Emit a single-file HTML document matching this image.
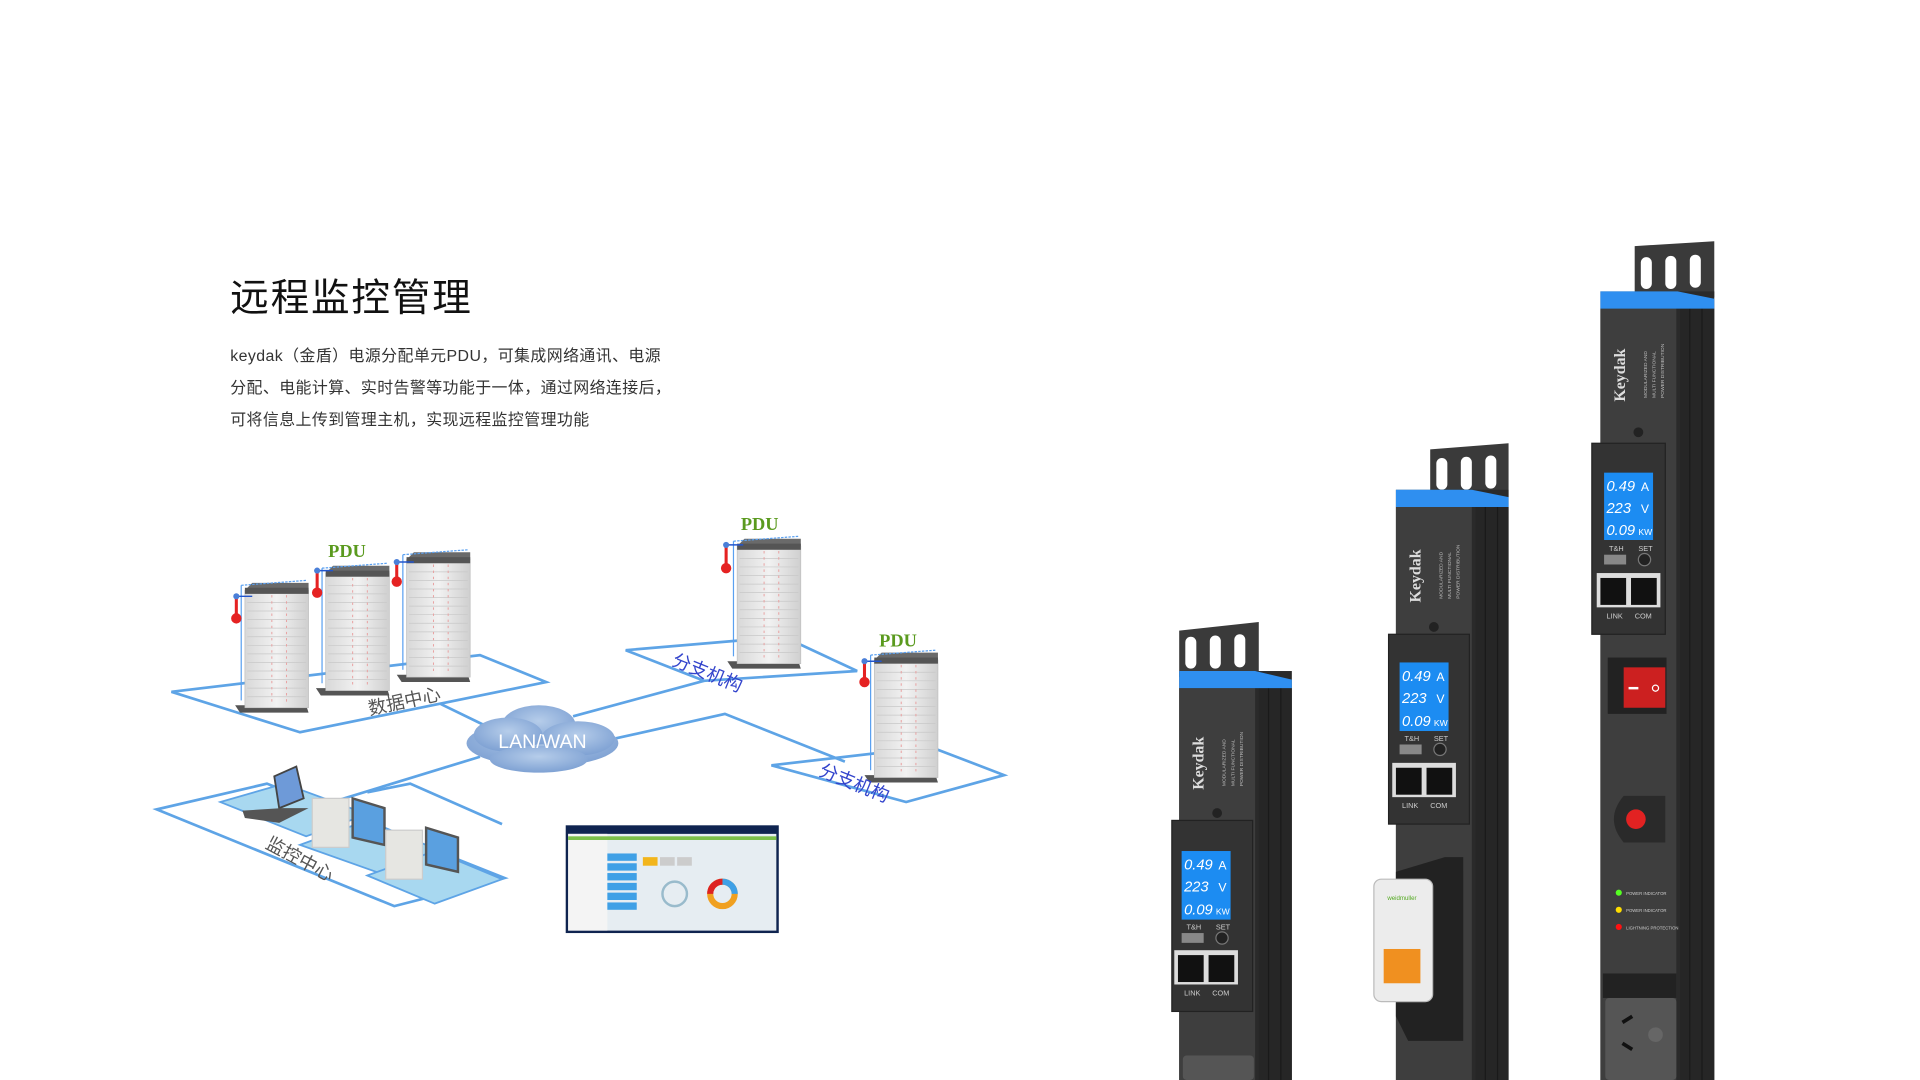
<!DOCTYPE html>
<html><head><meta charset="utf-8"><style>
html,body{margin:0;padding:0;background:#fff;width:1920px;height:1080px;overflow:hidden}
svg{display:block}
text{font-family:"Liberation Sans","Noto Sans CJK SC",sans-serif}
</style></head><body>
<svg width="1920" height="1080" viewBox="0 0 1568 882" preserveAspectRatio="none" xmlns="http://www.w3.org/2000/svg">
<defs>
<linearGradient id="rk" x1="0" x2="1"><stop offset="0" stop-color="#d8d8d8"/><stop offset="0.5" stop-color="#f2f2f2"/><stop offset="1" stop-color="#cfcfcf"/></linearGradient>
<radialGradient id="cl" cx="0.5" cy="0.4" r="0.6"><stop offset="0" stop-color="#b6cdea"/><stop offset="1" stop-color="#7ea1d3"/></radialGradient>
<symbol id="rack" viewBox="0 0 60 110" overflow="visible">
<polygon points="-8,100 50,100 52,106 -4,106" fill="#555"/>
<rect x="0" y="6" width="52" height="96" fill="url(#rk)" stroke="#bbb" stroke-width="0.5"/>
<polygon points="0,6 6,0 52,0 52,6" fill="#6a6a6a"/>
<rect x="0" y="4" width="52" height="5" fill="#555"/>
<g stroke="#c8c8c8" stroke-width="0.6">
<line x1="2" y1="16" x2="50" y2="16"/><line x1="2" y1="23" x2="50" y2="23"/><line x1="2" y1="30" x2="50" y2="30"/><line x1="2" y1="37" x2="50" y2="37"/><line x1="2" y1="44" x2="50" y2="44"/><line x1="2" y1="51" x2="50" y2="51"/><line x1="2" y1="58" x2="50" y2="58"/><line x1="2" y1="65" x2="50" y2="65"/><line x1="2" y1="72" x2="50" y2="72"/><line x1="2" y1="79" x2="50" y2="79"/><line x1="2" y1="86" x2="50" y2="86"/><line x1="2" y1="93" x2="50" y2="93"/></g>
<line x1="22" y1="10" x2="22" y2="98" stroke="#e9a0a0" stroke-width="0.8" stroke-dasharray="2,3"/>
<line x1="34" y1="10" x2="34" y2="98" stroke="#e9a0a0" stroke-width="0.8" stroke-dasharray="2,3"/>
<line x1="-3" y1="2" x2="-3" y2="96" stroke="#5aa0f0" stroke-width="1"/>
<line x1="-3" y1="2" x2="50" y2="-2" stroke="#5aa0f0" stroke-width="1" stroke-dasharray="2,1"/>
</symbol>
</defs>

<text x="188" y="254" font-size="31.5" letter-spacing="1.5" fill="#111">远程监控管理</text>
<text x="188" y="295" font-size="13" letter-spacing="0.35" fill="#333">keydak（金盾）电源分配单元PDU，可集成网络通讯、电源</text>
<text x="188" y="321" font-size="13" letter-spacing="0.35" fill="#333">分配、电能计算、实时告警等功能于一体，通过网络连接后，</text>
<text x="188" y="347" font-size="13" letter-spacing="0.35" fill="#333">可将信息上传到管理主机，实现远程监控管理功能</text>

<g fill="none" stroke="#5ea4e6" stroke-width="2.2">
<polygon points="140,565 245,598 446,557 392,535 140,565"/>
<polygon points="511,531 575,556 700,548 640,520"/>
<polygon points="630,625 740,655 820,633 760,610"/>
<polygon points="128,661 322,740 412,717 218,640"/>
<polyline points="300,647 335,640 410,673"/>
<line x1="395" y1="592" x2="360" y2="575"/>
<line x1="468" y1="585" x2="575" y2="556"/>
<polyline points="503,603 592,583 690,622"/>
<line x1="392" y1="618" x2="255" y2="660"/>
</g>
<polygon points="180,655 232,640 300,665 250,683" fill="#a8d8f0" stroke="#5ea4e6" stroke-width="1.5"/>
<polygon points="245,690 300,670 360,695 310,713" fill="#a8d8f0" stroke="#5ea4e6" stroke-width="1.5"/>
<polygon points="300,715 355,695 410,718 355,738" fill="#a8d8f0" stroke="#5ea4e6" stroke-width="1.5"/>
<polygon points="224,634 242,626 248,652 228,660" fill="#6e9ad8" stroke="#444" stroke-width="1.5"/>
<polygon points="198,662 230,660 252,660 228,672 200,668" fill="#555"/>
<rect x="255" y="652" width="30" height="40" fill="#e6e6e2" stroke="#ccc"/>
<polygon points="288,652 314,660 314,690 288,684" fill="#5aa0e0" stroke="#555" stroke-width="2"/>
<rect x="315" y="678" width="30" height="40" fill="#e6e6e2" stroke="#ccc"/>
<polygon points="348,676 374,684 374,712 348,706" fill="#5aa0e0" stroke="#555" stroke-width="2"/>

<use href="#rack" x="200" y="476" width="60" height="110"/>
<use href="#rack" x="266" y="462" width="60" height="110"/>
<use href="#rack" x="332" y="451" width="60" height="110"/>
<use href="#rack" x="602" y="440" width="60" height="110"/>
<use href="#rack" x="714" y="533" width="60" height="110"/>
<g stroke="#2255cc" stroke-width="1.2">
<line x1="193" y1="487" x2="206" y2="487"/><line x1="259" y1="466" x2="272" y2="466"/><line x1="324" y1="459" x2="338" y2="459"/><line x1="593" y1="445" x2="607" y2="445"/><line x1="706" y1="540" x2="720" y2="540"/></g>
<g fill="#e52222" stroke="#e52222" stroke-width="2.5">
<line x1="193" y1="487" x2="193" y2="503"/><circle cx="193" cy="505" r="3"/>
<line x1="259" y1="466" x2="259" y2="482"/><circle cx="259" cy="484" r="3"/>
<line x1="324" y1="459" x2="324" y2="475"/><circle cx="324" cy="475" r="3"/>
<line x1="593" y1="445" x2="593" y2="463"/><circle cx="593" cy="464" r="3"/>
<line x1="706" y1="540" x2="706" y2="556"/><circle cx="706" cy="557" r="3"/>
</g>
<g fill="#4a7fd8"><circle cx="193" cy="487" r="2.5"/><circle cx="259" cy="466" r="2.5"/><circle cx="324" cy="459" r="2.5"/><circle cx="593" cy="445" r="2.5"/><circle cx="706" cy="540" r="2.5"/></g>
<g font-size="15" fill="#5a9a1e" font-weight="bold">
<text x="268" y="455" style="font-family:'Liberation Serif',serif">PDU</text>
<text x="605" y="433" style="font-family:'Liberation Serif',serif">PDU</text>
<text x="718" y="528" style="font-family:'Liberation Serif',serif">PDU</text></g>
<text x="302" y="584" font-size="15" fill="#555" transform="rotate(-12 302 584)">数据中心</text>
<text x="548" y="543" font-size="15" fill="#3344cc" transform="rotate(22 548 543)">分支机构</text>
<text x="668" y="633" font-size="15" fill="#3344cc" transform="rotate(22 668 633)">分支机构</text>
<text x="216" y="692" font-size="15" fill="#555" transform="rotate(28 216 692)">监控中心</text>

<g fill="url(#cl)">
<ellipse cx="443" cy="607" rx="62" ry="19"/><ellipse cx="440" cy="592" rx="30" ry="16"/><ellipse cx="415" cy="600" rx="28" ry="14"/><ellipse cx="472" cy="603" rx="30" ry="14"/><ellipse cx="440" cy="620" rx="40" ry="11"/>
</g>
<text x="443" y="611" font-size="16" fill="#fff" text-anchor="middle">LAN/WAN</text>

<rect x="462" y="674" width="174" height="88" fill="#0f2450"/>
<rect x="464" y="681" width="170" height="79" fill="#e6edf2"/>
<rect x="464" y="681" width="32" height="79" fill="#f4f4f4"/>
<rect x="464" y="683" width="170" height="3" fill="#7cc04a"/>
<g fill="#3fa0e6"><rect x="496" y="697" width="24" height="6"/><rect x="496" y="705" width="24" height="6"/><rect x="496" y="713" width="24" height="6"/><rect x="496" y="721" width="24" height="6"/><rect x="496" y="729" width="24" height="6"/><rect x="496" y="737" width="24" height="6"/></g>
<rect x="525" y="700" width="12" height="7" fill="#f2b51c"/><rect x="539" y="700" width="12" height="7" fill="#ccc"/><rect x="553" y="700" width="12" height="7" fill="#ccc"/>
<circle cx="551" cy="730" r="10" fill="none" stroke="#9bc" stroke-width="2"/>
<circle cx="590" cy="730" r="10" fill="none" stroke="#f0a020" stroke-width="5"/>
<path d="M590 720 A10 10 0 0 1 600 730" fill="none" stroke="#3fa0e6" stroke-width="5"/>
<path d="M580 730 A10 10 0 0 1 590 720" fill="none" stroke="#d22" stroke-width="5"/>

<g>
<path d="M1335,201 L1400,197 L1400,243 L1335,243 Z" fill="#3a3a3a"/>
<rect x="1340" y="210" width="9" height="26" rx="4.5" fill="#fff"/><rect x="1360" y="209" width="9" height="27" rx="4.5" fill="#fff"/><rect x="1380" y="208" width="9" height="27" rx="4.5" fill="#fff"/>
<rect x="1307" y="238" width="93" height="644" fill="#2a2a2a"/>
<rect x="1307" y="252" width="62" height="630" fill="#3e3e3e"/>
<rect x="1372" y="252" width="28" height="630" fill="#262626"/>
<line x1="1380" y1="252" x2="1380" y2="882" stroke="#1a1a1a"/><line x1="1390" y1="252" x2="1390" y2="882" stroke="#1a1a1a"/>
<polygon points="1307,238 1370,238 1400,244 1400,252 1307,252" fill="#2f8ff0"/>
<text transform="translate(1327,328) rotate(-90)" font-size="13" fill="#ddd" font-weight="bold" style="font-family:'Liberation Serif',serif">Keydak</text>
<text transform="translate(1345,325) rotate(-90)" font-size="4" fill="#bbb">MODULARIZED  AND</text>
<text transform="translate(1352,325) rotate(-90)" font-size="4" fill="#bbb">MULTI  FUNCTIONAL</text>
<text transform="translate(1359,325) rotate(-90)" font-size="4" fill="#bbb">POWER DISTRIBUTION</text>
<circle cx="1338" cy="353" r="4" fill="#222"/>
<rect x="1300" y="362" width="60" height="156" fill="#333" stroke="#222"/>
<rect x="1310" y="386" width="40" height="55" fill="#1c8cf2"/>
<text x="1312" y="401" font-size="12" fill="#fff" font-style="italic">0.49</text><text x="1340" y="401" font-size="10" fill="#fff">A</text>
<text x="1312" y="419" font-size="12" fill="#fff" font-style="italic">223</text><text x="1340" y="419" font-size="10" fill="#fff">V</text>
<text x="1312" y="437" font-size="12" fill="#fff" font-style="italic">0.09</text><text x="1338" y="437" font-size="7" fill="#fff">KW</text>
<text x="1314" y="450" font-size="6" fill="#ccc">T&amp;H</text><text x="1338" y="450" font-size="6" fill="#ccc">SET</text>
<rect x="1310" y="453" width="18" height="8" fill="#888"/><circle cx="1343" cy="457" r="5" fill="#222" stroke="#777"/>
<rect x="1304" y="468" width="52" height="28" fill="#ddd"/>
<rect x="1307" y="472" width="21" height="22" fill="#111"/><rect x="1332" y="472" width="21" height="22" fill="#111"/>
<text x="1312" y="505" font-size="6" fill="#ccc">LINK</text><text x="1335" y="505" font-size="6" fill="#ccc">COM</text>
<rect x="1313" y="537" width="48" height="46" fill="#222"/>
<rect x="1326" y="545" width="34" height="33" fill="#cc2020"/>
<rect x="1330" y="561" width="8" height="2" fill="#fff"/><circle cx="1352" cy="562" r="2.5" fill="none" stroke="#fff"/>
<path d="M1326,650 L1360,650 L1360,688 L1326,688 Q1310,669 1326,650 Z" fill="#2a2a2a"/>
<circle cx="1336" cy="669" r="8" fill="#e22222"/>
<circle cx="1322" cy="729" r="2.5" fill="#5f2"/><circle cx="1322" cy="743" r="2.5" fill="#fd0"/><circle cx="1322" cy="757" r="2.5" fill="#f11"/>
<text x="1328" y="731" font-size="3.5" fill="#ccc">POWER INDICATOR</text><text x="1328" y="745" font-size="3.5" fill="#ccc">POWER INDICATOR</text><text x="1328" y="759" font-size="3.5" fill="#ccc">LIGHTNING PROTECTION</text>
<rect x="1309" y="795" width="60" height="20" fill="#222"/>
<rect x="1311" y="815" width="58" height="67" rx="3" fill="#555"/>
<line x1="1325" y1="835" x2="1333" y2="830" stroke="#111" stroke-width="3"/><line x1="1325" y1="852" x2="1333" y2="857" stroke="#111" stroke-width="3"/><circle cx="1352" cy="845" r="6" fill="#666"/>
</g>

<g>
<path d="M1168,367 L1232,362 L1232,406 L1168,406 Z" fill="#3a3a3a"/>
<rect x="1173" y="374" width="9" height="26" rx="4.5" fill="#fff"/><rect x="1193" y="373" width="9" height="27" rx="4.5" fill="#fff"/><rect x="1213" y="372" width="9" height="27" rx="4.5" fill="#fff"/>
<rect x="1140" y="400" width="92" height="482" fill="#2a2a2a"/>
<rect x="1140" y="414" width="62" height="468" fill="#3e3e3e"/>
<rect x="1205" y="414" width="27" height="468" fill="#262626"/>
<line x1="1213" y1="414" x2="1213" y2="882" stroke="#1a1a1a"/><line x1="1223" y1="414" x2="1223" y2="882" stroke="#1a1a1a"/>
<polygon points="1140,400 1202,400 1232,406 1232,414 1140,414" fill="#2f8ff0"/>
<text transform="translate(1160,492) rotate(-90)" font-size="13" fill="#ddd" font-weight="bold" style="font-family:'Liberation Serif',serif">Keydak</text>
<text transform="translate(1178,489) rotate(-90)" font-size="4" fill="#bbb">MODULARIZED  AND</text>
<text transform="translate(1185,489) rotate(-90)" font-size="4" fill="#bbb">MULTI  FUNCTIONAL</text>
<text transform="translate(1192,489) rotate(-90)" font-size="4" fill="#bbb">POWER DISTRIBUTION</text>
<circle cx="1171" cy="512" r="4" fill="#222"/>
<rect x="1134" y="518" width="66" height="155" fill="#333" stroke="#222"/>
<rect x="1143" y="541" width="40" height="56" fill="#1c8cf2"/>
<text x="1145" y="556" font-size="12" fill="#fff" font-style="italic">0.49</text><text x="1173" y="556" font-size="10" fill="#fff">A</text>
<text x="1145" y="574" font-size="12" fill="#fff" font-style="italic">223</text><text x="1173" y="574" font-size="10" fill="#fff">V</text>
<text x="1145" y="593" font-size="12" fill="#fff" font-style="italic">0.09</text><text x="1171" y="593" font-size="7" fill="#fff">KW</text>
<text x="1147" y="605" font-size="6" fill="#ccc">T&amp;H</text><text x="1171" y="605" font-size="6" fill="#ccc">SET</text>
<rect x="1143" y="608" width="18" height="8" fill="#888"/><circle cx="1176" cy="612" r="5" fill="#222" stroke="#777"/>
<rect x="1137" y="623" width="52" height="28" fill="#ddd"/>
<rect x="1140" y="627" width="21" height="22" fill="#111"/><rect x="1165" y="627" width="21" height="22" fill="#111"/>
<text x="1145" y="660" font-size="6" fill="#ccc">LINK</text><text x="1168" y="660" font-size="6" fill="#ccc">COM</text>
<path d="M1140,712 L1180,700 L1195,700 L1195,850 L1150,850 L1140,830 Z" fill="#222"/>
<rect x="1122" y="718" width="48" height="100" rx="6" fill="#ececec" stroke="#bbb"/>
<rect x="1130" y="775" width="30" height="28" fill="#f09020"/>
<text x="1133" y="735" font-size="5" fill="#5a2">weidmuller</text>
</g>

<g>
<path d="M963,515 L1028,508 L1028,553 L963,553 Z" fill="#3a3a3a"/>
<rect x="968" y="520" width="9" height="26" rx="4.5" fill="#fff"/><rect x="988" y="519" width="9" height="27" rx="4.5" fill="#fff"/><rect x="1008" y="518" width="9" height="27" rx="4.5" fill="#fff"/>
<rect x="963" y="548" width="92" height="334" fill="#2a2a2a"/>
<rect x="963" y="562" width="62" height="320" fill="#3e3e3e"/>
<rect x="1028" y="562" width="27" height="320" fill="#262626"/>
<line x1="1036" y1="562" x2="1036" y2="882" stroke="#1a1a1a"/><line x1="1046" y1="562" x2="1046" y2="882" stroke="#1a1a1a"/>
<polygon points="963,548 1025,548 1055,555 1055,562 963,562" fill="#2f8ff0"/>
<text transform="translate(983,645) rotate(-90)" font-size="13" fill="#ddd" font-weight="bold" style="font-family:'Liberation Serif',serif">Keydak</text>
<text transform="translate(1001,642) rotate(-90)" font-size="4" fill="#bbb">MODULARIZED  AND</text>
<text transform="translate(1008,642) rotate(-90)" font-size="4" fill="#bbb">MULTI  FUNCTIONAL</text>
<text transform="translate(1015,642) rotate(-90)" font-size="4" fill="#bbb">POWER DISTRIBUTION</text>
<circle cx="994" cy="664" r="4" fill="#222"/>
<rect x="957" y="670" width="66" height="156" fill="#333" stroke="#222"/>
<rect x="965" y="695" width="40" height="56" fill="#1c8cf2"/>
<text x="967" y="710" font-size="12" fill="#fff" font-style="italic">0.49</text><text x="995" y="710" font-size="10" fill="#fff">A</text>
<text x="967" y="728" font-size="12" fill="#fff" font-style="italic">223</text><text x="995" y="728" font-size="10" fill="#fff">V</text>
<text x="967" y="747" font-size="12" fill="#fff" font-style="italic">0.09</text><text x="993" y="747" font-size="7" fill="#fff">KW</text>
<text x="969" y="759" font-size="6" fill="#ccc">T&amp;H</text><text x="993" y="759" font-size="6" fill="#ccc">SET</text>
<rect x="965" y="762" width="18" height="8" fill="#888"/><circle cx="998" cy="766" r="5" fill="#222" stroke="#777"/>
<rect x="959" y="776" width="52" height="28" fill="#ddd"/>
<rect x="962" y="780" width="21" height="22" fill="#111"/><rect x="987" y="780" width="21" height="22" fill="#111"/>
<text x="967" y="813" font-size="6" fill="#ccc">LINK</text><text x="990" y="813" font-size="6" fill="#ccc">COM</text>
<rect x="966" y="862" width="58" height="20" rx="3" fill="#555"/>
</g>
</svg>
</body></html>
